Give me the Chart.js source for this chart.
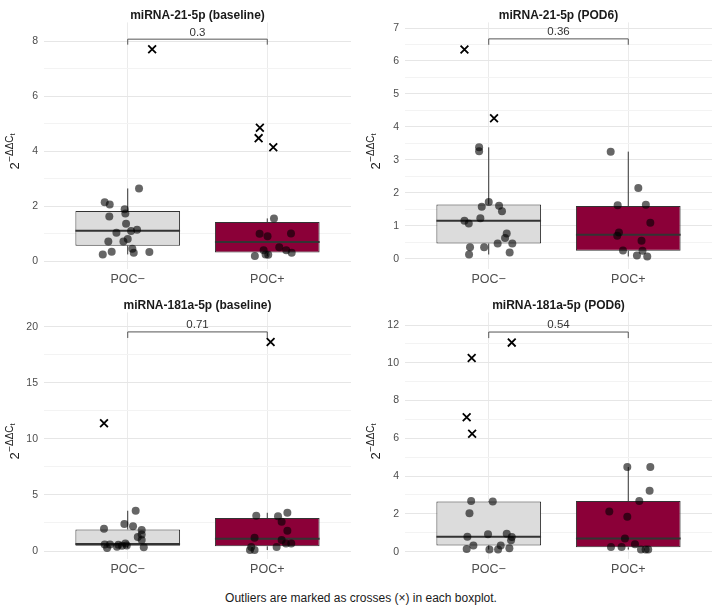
<!DOCTYPE html>
<html>
<head>
<meta charset="utf-8">
<script src="https://cdn.jsdelivr.net/npm/chart.js@4.4.0/dist/chart.umd.min.js"></script>
<style>
  body { margin: 0; background: #fff; font-family: "Liberation Sans", Arial, sans-serif; }
  #wrap { position: relative; width: 722px; height: 608px; }
  #wrap canvas { position: absolute; }
  #note { position: absolute; left: 0; top: 588px; width: 722px; text-align: center;
          font-size: 12px; line-height: 20px; color: #1a1a1a; }
</style>
</head>
<body>
<div id="wrap">
  <canvas id="c0" width="361" height="290" style="left:0;top:0"></canvas>
  <canvas id="c1" width="361" height="290" style="left:361px;top:0"></canvas>
  <canvas id="c2" width="361" height="290" style="left:0;top:290px"></canvas>
  <canvas id="c3" width="361" height="290" style="left:361px;top:290px"></canvas>
  <div id="note">Outliers are marked as crosses (×) in each boxplot.</div>
</div>
<script>
const groups = ['POC−', 'POC+'];
const panelTitles = ['miRNA-21-5p (baseline)', 'miRNA-21-5p (POD6)', 'miRNA-181a-5p (baseline)', 'miRNA-181a-5p (POD6)'];
const pLabels = ['0.3', '0.36', '0.71', '0.54'];

// y axis range + tick steps per panel
const yMins = [-0.29, -0.31, -0.71, -0.39];
const yMaxs = [8.68, 7.17, 21.27, 12.67];
const yMinorSteps = [1, 0.5, 2.5, 1];
const yLabelSteps = [2, 1, 5, 2];

// comparison bracket
const bracketTop = [8.07, 6.67, 19.53, 11.63];
const bracketLeg = [7.87, 6.49, 18.99, 11.31];

// box stats, [POC-, POC+] per panel
const whiskLow  = [[0.24, 0.18], [0.13, 0.07], [0.27, 0.09], [0.11, 0.11]];
const q1        = [[0.56, 0.31], [0.46, 0.24], [0.47, 0.42], [0.33, 0.23]];
const medians   = [[1.10, 0.69], [1.15, 0.73], [0.62, 1.10], [0.79, 0.69]];
const q3        = [[1.82, 1.42], [1.65, 1.60], [1.93, 2.94], [2.66, 2.68]];
const whiskHigh = [[2.64, 1.55], [3.38, 3.25], [3.59, 3.41], [2.68, 4.48]];

// jittered observations (values and horizontal jitter offsets)
const pointsNeg = [
  [2.14, 2.06, 2.64, 1.62, 1.88, 1.73, 1.36, 1.03, 1.09, 1.14, 0.71, 0.71, 0.80, 0.34, 0.24, 0.45, 0.30, 0.33],
  [3.38, 3.26, 1.72, 1.58, 1.61, 1.44, 1.23, 1.15, 1.07, 0.77, 0.63, 0.46, 0.46, 0.35, 0.35, 0.13, 0.19],
  [3.59, 2.40, 2.20, 1.99, 1.87, 1.48, 1.25, 0.98, 0.59, 0.59, 0.68, 0.56, 0.47, 0.50, 0.39, 0.27, 0.33],
  [2.68, 2.66, 2.03, 0.79, 0.92, 0.95, 0.78, 0.60, 0.33, 0.33, 0.14, 0.11, 0.11, 0.18]
];
const jitterNeg = [
  [-0.165, -0.129, 0.081, -0.132, -0.022, -0.017, -0.012, -0.081, 0.024, 0.067, -0.139, -0.031, 0.0, -0.115, -0.179, 0.033, 0.043, 0.155],
  [-0.069, -0.069, 0.0, -0.050, 0.074, 0.095, -0.060, -0.174, -0.143, 0.129, 0.117, 0.064, 0.169, -0.134, -0.033, -0.141, 0.150],
  [0.057, -0.024, 0.038, -0.170, 0.100, 0.100, 0.072, 0.100, -0.165, -0.127, -0.017, -0.067, -0.041, -0.007, -0.077, -0.148, 0.115],
  [-0.126, 0.029, -0.138, -0.153, -0.005, 0.129, 0.165, 0.160, -0.110, 0.086, -0.158, 0.005, 0.067, 0.148]
];
const pointsPos = [
  [1.55, 0.99, 0.90, 1.00, 0.39, 0.50, 0.39, 0.30, 0.18, 0.24, 0.23],
  [3.25, 2.15, 1.62, 1.64, 1.09, 0.80, 0.70, 0.55, 0.25, 0.24, 0.10, 0.07],
  [3.15, 3.09, 3.41, 2.61, 1.81, 1.19, 0.98, 0.68, 0.68, 0.36, 0.36, 0.09, 0.09],
  [4.48, 4.48, 3.22, 2.68, 2.13, 1.85, 0.70, 0.39, 0.25, 0.25, 0.11, 0.11, 0.11]
];
const jitterPos = [
  [0.048, -0.055, 0.002, 0.170, -0.026, 0.086, 0.136, 0.175, -0.089, -0.012, 0.007],
  [-0.126, 0.072, -0.076, 0.126, 0.158, -0.067, -0.079, 0.095, -0.038, 0.102, 0.062, 0.136],
  [-0.079, 0.077, 0.144, 0.103, 0.144, -0.091, 0.103, 0.134, 0.172, -0.115, 0.067, -0.124, -0.091],
  [-0.007, 0.158, 0.153, 0.079, -0.136, -0.007, -0.024, 0.048, -0.124, -0.048, 0.091, 0.124, 0.143]
];

// outliers (crosses)
const outNeg = [[7.70], [6.35, 4.26], [11.39], [11.07, 10.26, 7.12, 6.24]];
const outNegJit = [[0.175], [-0.174, 0.038], [-0.170], [0.165, -0.122, -0.158, -0.119]];
const outPos = [[4.85, 4.47, 4.14], [], [18.64], []];
const outPosJit = [[-0.053, -0.062, 0.043], [], [0.024], []];

const boxColors = ['#dcdcdc', '#8b0038'];
const FONT = "'Liberation Sans', Arial, sans-serif";
Chart.defaults.font.family = FONT;

const isMajor = (v, step) => Math.abs(v / step - Math.round(v / step)) < 1e-6;

const toXY = (vals, jit, g) => vals.map((v, i) => ({ x: g + jit[i], y: v }));

// whiskers + median on top of the floating bars, bracket and y title
const boxExtras = {
  id: 'boxExtras',
  afterDatasetDraw(chart, args) {
    if (args.index !== 0) return;
    const p = chart.options.plugins.boxExtras.panel;
    const y = chart.scales.y;
    const ctx = chart.ctx;
    const bars = chart.getDatasetMeta(0).data;
    ctx.save();
    ctx.strokeStyle = '#333';
    bars.forEach((bar, g) => {
      ctx.lineWidth = 1;
      ctx.beginPath();
      ctx.moveTo(bar.x, y.getPixelForValue(q3[p][g]));
      ctx.lineTo(bar.x, y.getPixelForValue(whiskHigh[p][g]));
      ctx.moveTo(bar.x, y.getPixelForValue(q1[p][g]));
      ctx.lineTo(bar.x, y.getPixelForValue(whiskLow[p][g]));
      ctx.stroke();
      ctx.lineWidth = 2;
      ctx.beginPath();
      const my = y.getPixelForValue(medians[p][g]);
      ctx.moveTo(bar.x - bar.width / 2, my);
      ctx.lineTo(bar.x + bar.width / 2, my);
      ctx.stroke();
    });
    ctx.restore();
  },
  afterDatasetsDraw(chart) {
    const p = chart.options.plugins.boxExtras.panel;
    const { x, y } = chart.scales;
    const ctx = chart.ctx;
    const x1 = x.getPixelForValue(1), x2 = x.getPixelForValue(2);
    const yt = y.getPixelForValue(bracketTop[p]), yl = y.getPixelForValue(bracketLeg[p]);
    ctx.save();
    ctx.strokeStyle = '#555';
    ctx.lineWidth = 1;
    ctx.beginPath();
    ctx.moveTo(x1, yl); ctx.lineTo(x1, yt); ctx.lineTo(x2, yt); ctx.lineTo(x2, yl);
    ctx.stroke();
    ctx.fillStyle = '#333';
    ctx.font = '11.5px ' + FONT;
    ctx.textAlign = 'center';
    ctx.textBaseline = 'bottom';
    ctx.fillText(pLabels[p], (x1 + x2) / 2, yt - 1);

    // y axis title 2^-ΔΔCt
    const a = chart.chartArea;
    ctx.translate(18.5, (a.top + a.bottom) / 2 + 6);
    ctx.rotate(-Math.PI / 2);
    ctx.fillStyle = '#1a1a1a';
    ctx.textAlign = 'left';
    ctx.textBaseline = 'alphabetic';
    const f1 = '13px ' + FONT, f2 = '10px ' + FONT, f3 = '7.5px ' + FONT;
    ctx.font = f1; const w1 = ctx.measureText('2').width;
    ctx.font = f2; const w2 = ctx.measureText('−ΔΔC').width;
    ctx.font = f3; const w3 = ctx.measureText('t').width;
    const x0 = -(w1 + w2 + w3) / 2;
    ctx.font = f1; ctx.fillText('2', x0, 0);
    ctx.font = f2; ctx.fillText('−ΔΔC', x0 + w1 + 0.5, -5.5);
    ctx.font = f3; ctx.fillText('t', x0 + w1 + w2 + 0.5, -3.5);
    ctx.restore();
  }
};

panelTitles.forEach((title, p) => {
  new Chart(document.getElementById('c' + p), {
    type: 'scatter',
    data: {
      datasets: [
        {
          type: 'bar',
          data: [{ x: 1, y: [q1[p][0], q3[p][0]] }, { x: 2, y: [q1[p][1], q3[p][1]] }],
          backgroundColor: boxColors,
          borderColor: '#333',
          borderWidth: 1,
          borderSkipped: false,
          categoryPercentage: 1,
          barPercentage: 0.75,
          order: 3
        },
        {
          data: toXY(pointsNeg[p], jitterNeg[p], 1).concat(toXY(pointsPos[p], jitterPos[p], 2)),
          backgroundColor: 'rgba(0,0,0,0.6)',
          borderWidth: 0,
          pointRadius: 4,
          order: 1
        },
        {
          data: toXY(outNeg[p], outNegJit[p], 1).concat(toXY(outPos[p], outPosJit[p], 2)),
          pointStyle: 'crossRot',
          pointRadius: 5.5,
          borderColor: '#000',
          borderWidth: 1.8,
          order: 0
        }
      ]
    },
    options: {
      responsive: false,
      animation: false,
      events: [],
      layout: { padding: { left: 0, right: 10, top: 0, bottom: 0 } },
      plugins: {
        legend: { display: false },
        tooltip: { enabled: false },
        title: {
          display: true,
          fullSize: false,
          text: title,
          color: '#1a1a1a',
          font: { size: 12, weight: 'bold' },
          padding: { top: 8, bottom: 0 }
        },
        boxExtras: { panel: p }
      },
      scales: {
        x: {
          type: 'linear',
          min: 0.4,
          max: 2.6,
          offset: false,
          afterBuildTicks: s => { s.ticks = [{ value: 1 }, { value: 2 }]; },
          afterFit: s => { s.height = 21; },
          ticks: {
            callback: (v, i) => groups[i],
            color: '#4d4d4d',
            font: { size: 12.5 },
            padding: 3,
            autoSkip: false,
            maxRotation: 0
          },
          grid: { color: '#ebebeb', drawTicks: false, offset: false },
          border: { display: false }
        },
        y: {
          min: yMins[p],
          max: yMaxs[p],
          afterFit: s => { s.width = 44; },
          ticks: {
            stepSize: yMinorSteps[p],
            includeBounds: false,
            callback: v => isMajor(v, yLabelSteps[p]) ? v : '',
            color: '#4d4d4d',
            font: { size: 10.5 },
            padding: 6
          },
          grid: {
            color: c => isMajor(c.tick.value, yLabelSteps[p]) ? '#e6e6e6' : '#f3f3f3',
            drawTicks: false
          },
          border: { display: false }
        }
      }
    },
    plugins: [boxExtras]
  });
});
</script>
</body>
</html>
